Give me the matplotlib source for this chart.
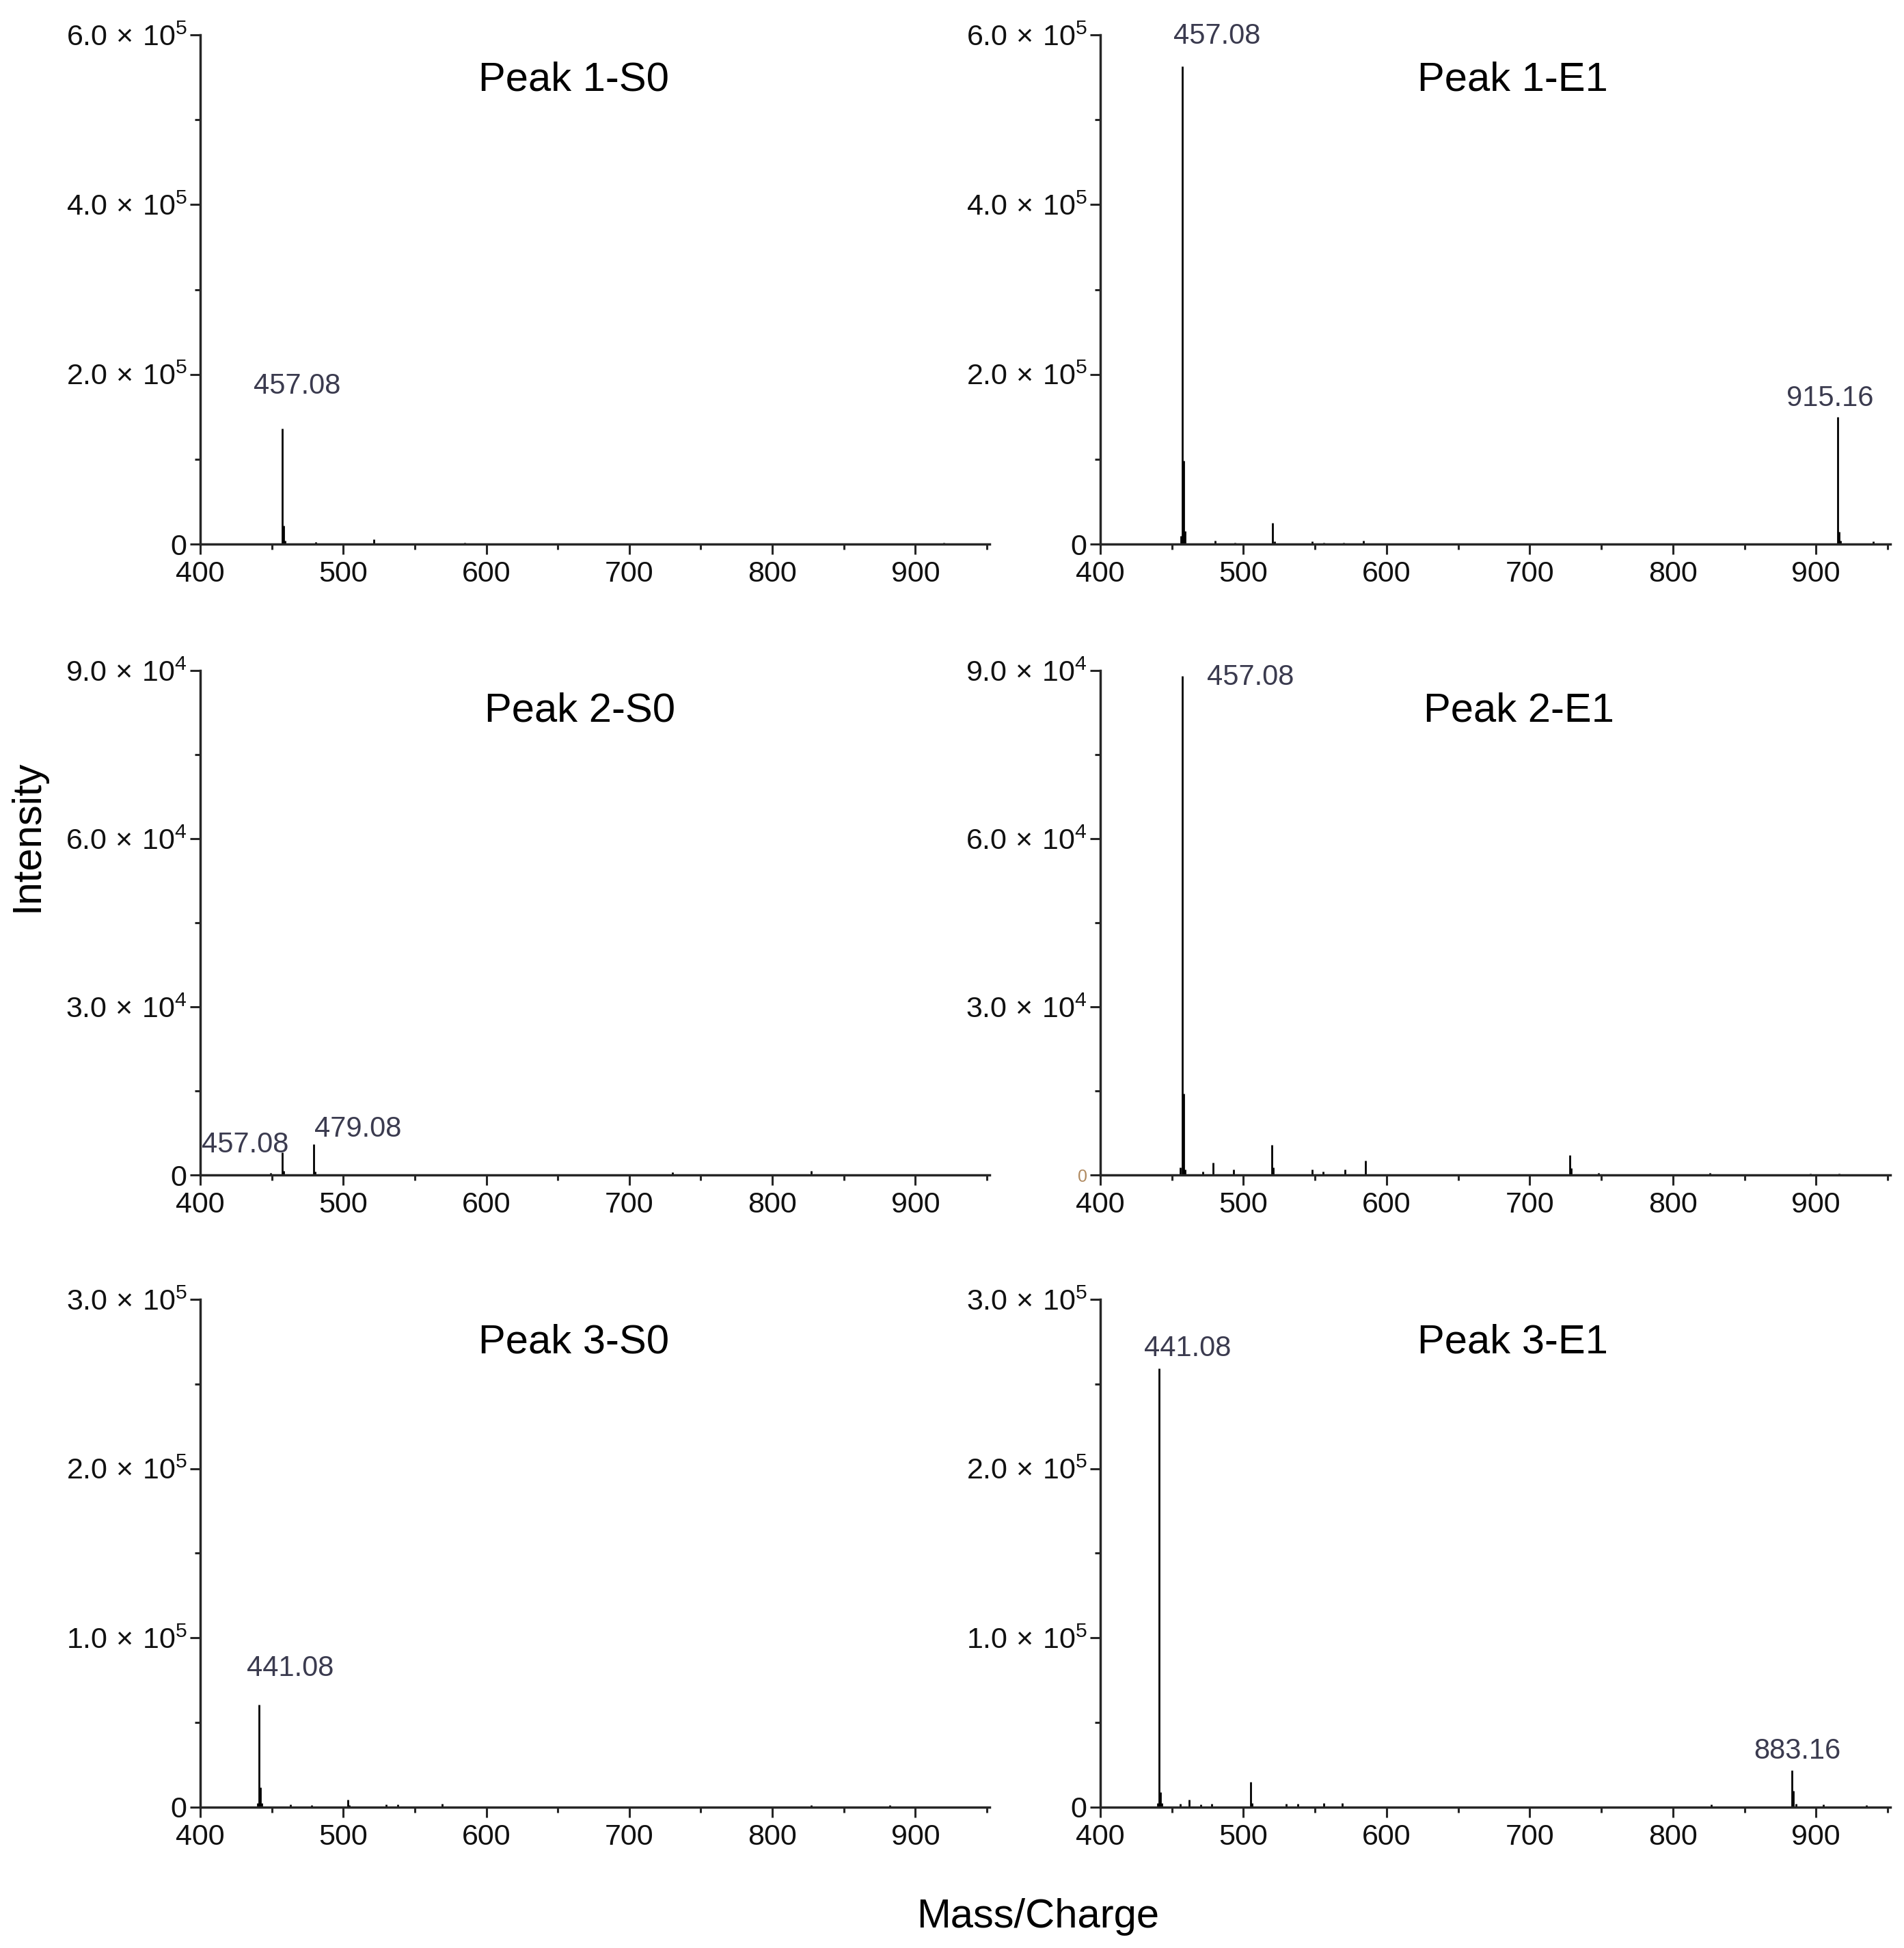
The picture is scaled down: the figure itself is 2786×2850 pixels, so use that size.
import numpy as np
import matplotlib.pyplot as plt
from matplotlib.ticker import MultipleLocator, FixedLocator

plt.rcParams['font.family'] = 'Liberation Sans'
plt.rcParams['mathtext.fontset'] = 'custom'
plt.rcParams['mathtext.rm'] = 'Liberation Sans'
plt.rcParams['mathtext.it'] = 'Liberation Sans:italic'
plt.rcParams['mathtext.bf'] = 'Liberation Sans:bold'

titles = ['Peak 1-S0', 'Peak 1-E1', 'Peak 2-S0', 'Peak 2-E1', 'Peak 3-S0', 'Peak 3-E1']

# stick spectra: m/z and intensity
mz_1s0 = [457.08, 458.08, 459.08, 480.9, 521.5, 585.0, 920.0]
int_1s0 = [1.36e5, 2.2e4, 4.0e3, 2.5e3, 5.5e3, 1.5e3, 1.5e3]

mz_1e1 = [456.1, 457.08, 458.08, 459.08, 480.0, 494.0, 520.5, 521.5, 548.0,
          556.0, 570.0, 584.0, 915.16, 916.16, 917.2, 940.0]
int_1e1 = [1.0e4, 5.63e5, 9.8e4, 1.5e4, 4.0e3, 2.0e3, 2.5e4, 3.0e3, 3.0e3,
           2.0e3, 2.0e3, 4.0e3, 1.50e5, 1.45e4, 4.0e3, 3.0e3]

mz_2s0 = [449.0, 457.08, 458.1, 479.08, 480.1, 730.0, 827.0]
int_2s0 = [400, 4.0e3, 800, 5.5e3, 600, 500, 800]

mz_2e1 = [456.0, 457.08, 458.08, 459.1, 471.5, 479.0, 493.0, 520.0, 521.0,
          548.0, 555.5, 571.0, 585.0, 728.0, 729.0, 748.0, 826.0, 896.0, 916.0]
int_2e1 = [1.3e3, 8.9e4, 1.45e4, 1.0e3, 600, 2.2e3, 1.0e3, 5.4e3, 1.3e3,
           1.0e3, 600, 1.0e3, 2.6e3, 3.6e3, 1.2e3, 400, 400, 300, 300]

mz_3s0 = [440.1, 441.08, 442.08, 443.1, 463.0, 478.0, 503.0, 504.0, 530.0,
          538.0, 569.0, 827.0, 882.0]
int_3s0 = [2.5e3, 6.05e4, 1.15e4, 2.5e3, 1.5e3, 1.2e3, 4.5e3, 1.2e3, 1.5e3,
           1.5e3, 1.8e3, 1.0e3, 1.0e3]

mz_3e1 = [440.1, 441.08, 442.08, 443.1, 456.0, 462.0, 470.0, 478.0, 505.0,
          506.0, 530.0, 538.0, 556.0, 569.0, 827.0, 883.16, 884.16, 886.0,
          905.0, 935.0]
int_3e1 = [2.5e3, 2.59e5, 9.0e3, 2.5e3, 1.8e3, 4.6e3, 1.5e3, 2.0e3, 1.48e4,
           2.5e3, 2.0e3, 2.0e3, 2.5e3, 2.5e3, 1.5e3, 2.17e4, 9.7e3, 2.0e3,
           1.5e3, 1.0e3]

spectra_mz = [mz_1s0, mz_1e1, mz_2s0, mz_2e1, mz_3s0, mz_3e1]
spectra_int = [int_1s0, int_1e1, int_2s0, int_2e1, int_3s0, int_3e1]

# labelled peaks per panel
labelled = [[457.08], [457.08, 915.16], [457.08, 479.08], [457.08], [441.08], [441.08, 883.16]]

y_max = [6e5, 6e5, 9e4, 9e4, 3e5, 3e5]
y_step = [2e5, 2e5, 3e4, 3e4, 1e5, 1e5]
y_exp = [5, 5, 4, 4, 5, 5]

# layout / style
positions = [[0.1052, 0.7207, 0.4146, 0.2614], [0.5779, 0.7207, 0.4150, 0.2614],
             [0.1052, 0.3968, 0.4146, 0.2590], [0.5779, 0.3968, 0.4150, 0.2590],
             [0.1052, 0.0723, 0.4146, 0.2607], [0.5779, 0.0723, 0.4150, 0.2607]]
title_pos = [(0.473, 0.911), (0.522, 0.911), (0.481, 0.920), (0.530, 0.920),
             (0.473, 0.915), (0.522, 0.915)]
label_off = [[(16, 45)], [(37, 32), (-8, 19)], [(-39, 8), (47, 16)], [(72, -1)],
             [(33, 38)], [(30, 21), (6, 20)]]

ink = '#262626'
lab_col = '#3b3b4f'

fig = plt.figure(figsize=(27.86, 28.5), dpi=100)

for k in range(6):
    ax = fig.add_axes(positions[k])
    mz = np.array(spectra_mz[k])
    it = np.array(spectra_int[k])
    ax.vlines(mz, 0, it, color='black', lw=2.0)

    for j, m in enumerate(labelled[k]):
        h = it[np.argmin(np.abs(mz - m))]
        ax.annotate('%.2f' % m, xy=(m, h), xytext=label_off[k][j],
                    textcoords='offset points', ha='center', va='center',
                    fontsize=30, color=lab_col)

    ax.set_xlim(400, 952)
    ax.set_ylim(0, y_max[k])
    ax.xaxis.set_major_locator(MultipleLocator(100))
    ax.xaxis.set_minor_locator(MultipleLocator(50))
    yt = np.arange(0, y_max[k] + 1, y_step[k])
    ax.yaxis.set_major_locator(FixedLocator(yt))
    ax.yaxis.set_minor_locator(FixedLocator(yt[:-1] + y_step[k] / 2))
    ylabs = ['0'] + [r'%.1f$\,\times\,$10$^{%d}$' % (v / 10**y_exp[k], y_exp[k]) for v in yt[1:]]
    ax.set_yticklabels(ylabs)

    for s in ['top', 'right']:
        ax.spines[s].set_visible(False)
    for s in ['left', 'bottom']:
        ax.spines[s].set_linewidth(2.5)
        ax.spines[s].set_color(ink)
    ax.tick_params(which='major', length=11, width=2.2, color=ink,
                   labelsize=31, pad=3, labelcolor='#111111')
    ax.tick_params(axis='x', which='major', pad=6)
    ax.tick_params(which='minor', length=6, width=2.2, color=ink)

    ax.text(title_pos[k][0], title_pos[k][1], titles[k], transform=ax.transAxes,
            ha='center', va='center', fontsize=43)

    if k == 3:
        zl = ax.get_yticklabels()[0]
        zl.set_fontsize(18)
        zl.set_color('#b08a60')

fig.text(0.0144, 0.571, 'Intensity', rotation=90, ha='center', va='center', fontsize=43)
fig.text(0.545, 0.016, 'Mass/Charge', ha='center', va='center', fontsize=43)

fig.savefig('out.png', dpi=100)
